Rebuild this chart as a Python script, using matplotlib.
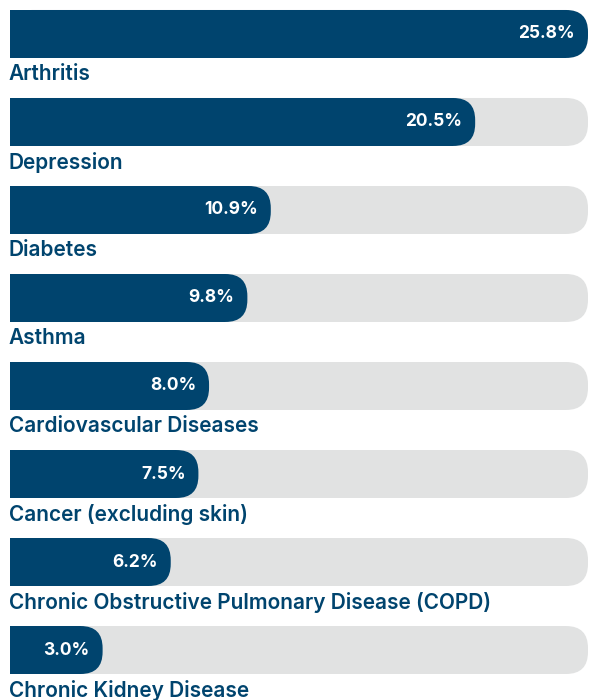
import matplotlib.pyplot as plt
from matplotlib.patches import FancyBboxPatch

NAVY = '#00446e'
GREY = '#e1e2e2'

conditions = ['Arthritis', 'Depression', 'Diabetes', 'Asthma',
              'Cardiovascular Diseases', 'Cancer (excluding skin)',
              'Chronic Obstructive Pulmonary Disease (COPD)',
              'Chronic Kidney Disease']
values = [25.8, 20.5, 10.9, 9.8, 8.0, 7.5, 6.2, 3.0]

X0 = -1.35      # bars start a bit left of zero
XMAX = 25.8
BAR_H = 0.545
RX = 1.03       # corner radius in x units
RY = 0.25       # corner radius in y units

plt.rcParams['font.family'] = ['Inter', 'DejaVu Sans']

fig = plt.figure(figsize=(5.89, 7.0), dpi=100)
ax = fig.add_axes([10 / 589, 0, 579 / 589, 1])
ax.set_xlim(X0, X0 + (XMAX - X0) * 579 / 578)
ax.set_ylim(7.568, -0.386)
ax.axis('off')


def rounded_bar(y, x_end, color):
    # square left part + rounded right end
    ax.barh(y, x_end - X0 - RX, left=X0, height=BAR_H, color=color, lw=0)
    p = FancyBboxPatch((X0, y - BAR_H / 2), x_end - X0, BAR_H,
                       boxstyle='round,pad=0,rounding_size=%f' % RX,
                       mutation_aspect=RY / RX, fc=color, ec='none')
    ax.add_patch(p)


for i, (name, v) in enumerate(zip(conditions, values)):
    rounded_bar(i, XMAX, GREY)
    rounded_bar(i, v, NAVY)
    ax.text(v - 0.6, i, '%.1f%%' % v, color='white', fontsize=12.5,
            fontweight='bold', ha='right', va='center')
    ax.text(X0 - 0.05, i + 0.46, name, color=NAVY, fontsize=15,
            fontweight='semibold', ha='left', va='center')

fig.savefig('out.png', dpi=100)
